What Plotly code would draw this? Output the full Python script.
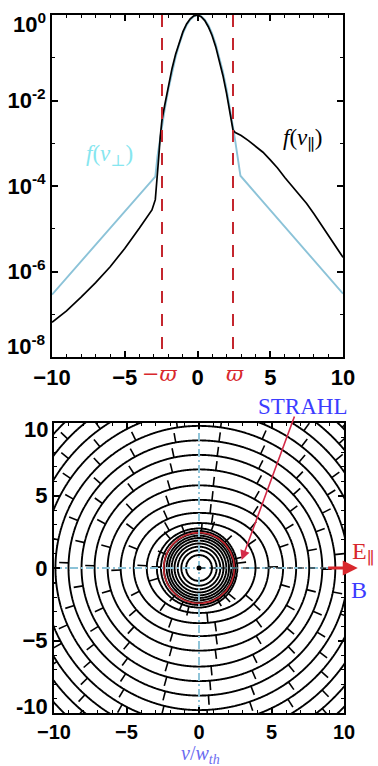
import numpy as np
import plotly.graph_objects as go

# ---------------- top panel: 1-D cuts ----------------
v_par = [-10, -9, -8, -7, -6, -5, -4, -3.5, -3.13, -2.9, -2.79, -2.67, -2.56, -2.44,
         -2.25, -2.0, -1.75, -1.5, -1.25, -1.0, -0.75, -0.5, -0.25, 0, 0.25, 0.5, 0.75,
         1.0, 1.25, 1.5, 1.75, 2.0, 2.25, 2.44, 2.6, 3.0, 3.5, 4.0, 4.5, 5.0, 5.5, 6.0,
         6.5, 7.0, 7.5, 8.0, 8.5, 9.0, 9.5, 10]
logf_par = [-7.19, -6.92, -6.60, -6.26, -5.89, -5.46, -4.99, -4.75, -4.56, -4.32, -3.93,
            -3.35, -2.85, -2.45, -2.10, -1.65, -1.25, -0.91, -0.62, -0.39, -0.21, -0.09,
            -0.02, 0.0, -0.04, -0.13, -0.28, -0.48, -0.74, -1.05, -1.42, -1.84, -2.30,
            -2.69, -2.75, -2.82, -2.94, -3.07, -3.21, -3.39, -3.58, -3.80, -4.00, -4.20,
            -4.41, -4.65, -4.90, -5.16, -5.41, -5.67]
v_perp = [-10, -8, -6, -4, -2.9, -2.75, -2.6, -2.44, -2.25, -2.0, -1.75, -1.5, -1.25, -1.0,
          -0.75, -0.5, -0.25, 0, 0.25, 0.5, 0.75, 1.0, 1.25, 1.5, 1.75, 2.0, 2.25, 2.44,
          2.6, 2.75, 2.95, 4, 6, 8, 10]
logf_perp = [-6.54, -5.76, -4.98, -4.21, -3.78, -3.30, -2.94, -2.60, -2.20, -1.74, -1.33,
             -0.98, -0.68, -0.43, -0.24, -0.11, -0.03, 0.0, -0.03, -0.11, -0.24, -0.43,
             -0.68, -0.98, -1.33, -1.74, -2.20, -2.62, -2.96, -3.32, -3.76, -4.17, -4.95,
             -5.74, -6.52]
varpi = 2.44
top_ytick_exp = [-6, -4, -2]
top_minor_exp = [-7, -5, -3, -1]
x_ticks = [-10, -5, 0, 5, 10]
y2_ticks = [-5, 0, 5]

# ---------------- bottom panel: contour crossings ----------------
contour_logf = [-0.4, -0.8, -1.2, -1.6, -2.0, -2.4, -2.8, -3.2, -3.6, -4.0, -4.4, -4.8,
                -5.2, -5.6, -6.0, -6.4, -6.8, -7.2, -7.6, -8.0, -8.4, -8.8]
# radius where each contour crosses the +v_par, v_perp and -v_par axes
r_pos = [0.90, 1.22, 1.47, 1.69, 1.89, 2.07, 2.23, 2.38, 2.50, 2.62, 3.9, 4.8, 5.8, 6.7,
         7.6, 8.5, 9.4, 10.3, 11.2, 12.1, 13.0, 13.9]
r_perp = [0.90, 1.22, 1.47, 1.69, 1.89, 2.07, 2.23, 2.40, 2.55, 2.72, 3.1, 3.8, 4.7, 5.7,
          6.8, 7.8, 8.8, 9.8, 10.8, 11.8, 12.8, 13.8]
r_neg = [0.90, 1.22, 1.47, 1.69, 1.89, 2.07, 2.23, 2.42, 2.62, 2.90, 3.6, 4.5, 5.4, 6.3,
         7.2, 8.1, 9.0, 9.9, 10.8, 11.7, 12.6, 13.5]
first_ticked_contour = 7

# ---------------- colours ----------------
BLUE_LINE = "#8cc3d8"
RED = "#c4262e"

# ---------------- build the 2-D field from the crossings ----------------
rp = np.array(r_pos); rq = np.array(r_perp); rn = np.array(r_neg)
lv = np.concatenate([[0.0], np.array(contour_logf)])

def radii(theta):
    c = np.cos(theta)
    w = c ** 2
    rpar = np.where(c[:, None] >= 0, rp[None, :], rn[None, :])
    return w[:, None] * rpar + (1 - w)[:, None] * rq[None, :]

g = np.linspace(-10.6, 10.6, 425)
X, Y = np.meshgrid(g, g)
R = np.hypot(X, Y).ravel()
TH = np.arctan2(Y, X).ravel()
rk = np.concatenate([np.zeros((R.size, 1)), radii(TH)], axis=1)
idx = np.clip((R[:, None] > rk).sum(axis=1), 1, len(lv) - 1)
r0 = np.take_along_axis(rk, (idx - 1)[:, None], 1)[:, 0]
r1 = np.take_along_axis(rk, idx[:, None], 1)[:, 0]
t = (R - r0) / (r1 - r0)
Z = (lv[idx - 1] + t * (lv[idx] - lv[idx - 1])).reshape(X.shape)

# downhill tick marks along the contours
tx, ty = [], []
th = np.linspace(0, 2 * np.pi, 2881)
RK = radii(th)
spacing, tlen = 3.0, 0.65
for k in range(first_ticked_contour, len(contour_logf)):
    px = RK[:, k] * np.cos(th); py = RK[:, k] * np.sin(th)
    s = np.concatenate([[0], np.cumsum(np.hypot(np.diff(px), np.diff(py)))])
    phase = (k * 1.37) % spacing
    for sj in np.arange(phase, s[-1], spacing):
        i = int(np.searchsorted(s, sj))
        i = min(max(i, 1), len(s) - 2)
        dx = px[i + 1] - px[i - 1]; dy = py[i + 1] - py[i - 1]
        n = np.array([dy, -dx]) / np.hypot(dx, dy)
        if n[0] * px[i] + n[1] * py[i] < 0:
            n = -n
        tx += [px[i], px[i] + tlen * n[0], None]
        ty += [py[i], py[i] + tlen * n[1], None]

fig = go.Figure()

# ---- top panel ----
fig.add_trace(go.Scatter(x=v_perp, y=[10 ** v for v in logf_perp], mode="lines",
                         line=dict(color=BLUE_LINE, width=1.9), xaxis="x", yaxis="y"))
fig.add_trace(go.Scatter(x=v_par, y=[10 ** v for v in logf_par], mode="lines",
                         line=dict(color="black", width=1.7), xaxis="x", yaxis="y"))
for xv in (-varpi, varpi):
    fig.add_trace(go.Scatter(x=[xv, xv], y=[1.0, 1e-8], mode="lines",
                             line=dict(color=RED, width=2, dash="12px,11px"),
                             xaxis="x", yaxis="y"))

# ---- bottom panel ----
fig.add_trace(go.Contour(x=g, y=g, z=Z, autocontour=False,
                         contours=dict(start=min(contour_logf), end=max(contour_logf),
                                       size=0.4, coloring="none"),
                         line=dict(color="black", width=1.9, smoothing=1),
                         showscale=False, hoverinfo="skip", xaxis="x2", yaxis="y2"))
fig.add_trace(go.Scatter(x=tx, y=ty, mode="lines", line=dict(color="black", width=1.6),
                         xaxis="x2", yaxis="y2"))
cth = np.linspace(0, 2 * np.pi, 200)
fig.add_trace(go.Scatter(x=varpi * np.cos(cth), y=varpi * np.sin(cth), mode="lines",
                         line=dict(color=RED, width=1.6), xaxis="x2", yaxis="y2"))
fig.add_trace(go.Scatter(x=[-10, 10], y=[0, 0], mode="lines",
                         line=dict(color=BLUE_LINE, width=1.9, dash="8px,3px,2px,3px"),
                         xaxis="x2", yaxis="y2"))
fig.add_trace(go.Scatter(x=[0, 0], y=[-10, 10], mode="lines",
                         line=dict(color=BLUE_LINE, width=1.9, dash="8px,3px,2px,3px"),
                         xaxis="x2", yaxis="y2"))
fig.add_trace(go.Scatter(x=[0, 8.8], y=[0, 0], mode="lines",
                         line=dict(color="black", width=1.2, dash="6px,5px"),
                         xaxis="x2", yaxis="y2"))
fig.add_trace(go.Scatter(x=[0], y=[0], mode="markers", marker=dict(color="black", size=5),
                         xaxis="x2", yaxis="y2"))

TF = dict(family="Liberation Sans", size=22, color="black", weight="bold")
TF2 = dict(TF, size=20)
common = dict(showline=True, linecolor="black", linewidth=2, mirror="ticks",
              ticks="inside", ticklen=6, tickwidth=1.5, tickcolor="black",
              showgrid=False, zeroline=False, automargin=False)
MINOR = dict(ticks="inside", ticklen=3, tickcolor="black", tickwidth=1.2)

top_x = [52 / 378, 343 / 378]; top_y = [1 - 357 / 766, 1 - 15 / 766]
bot_x = [54 / 378, 344 / 378]; bot_y = [1 - 713 / 766, 1 - 423 / 766]

fig.update_layout(
    width=378, height=766, margin=dict(l=0, r=0, t=0, b=0, autoexpand=False),
    paper_bgcolor="white", plot_bgcolor="white", showlegend=False,
    xaxis=dict(domain=top_x, anchor="y", range=[-10, 10], tickvals=x_ticks,
               minor=dict(dtick=1, **MINOR), tickfont=TF, **common),
    yaxis=dict(domain=top_y, anchor="x", type="log", range=[-8, 0],
               tickvals=[10.0 ** e for e in top_ytick_exp],
               ticktext=[f"10<sup>{e}</sup>" for e in top_ytick_exp],
               minor=dict(tickvals=[10.0 ** e for e in top_minor_exp], **MINOR),
               tickfont=TF, **common),
    xaxis2=dict(domain=bot_x, anchor="y2", range=[-10, 10], tickvals=x_ticks,
                minor=dict(dtick=1, **MINOR), tickfont=TF2, **common),
    yaxis2=dict(domain=bot_y, anchor="x2", range=[-10, 10], tickvals=y2_ticks,
                minor=dict(dtick=1, **MINOR), tickfont=TF, **common),
)

ann = []
# edge tick labels (nudged inward as in the original)
def edge_label(text, x, yref, y, yshift):
    return dict(text=text, xref="paper", x=x, xanchor="right", xshift=-4, yref=yref, y=y,
                yanchor="middle", yshift=yshift, showarrow=False, font=TF)
ann.append(edge_label("10<sup>0</sup>", top_x[0], "y", 0, -8))
ann.append(edge_label("10<sup>-8</sup>", top_x[0], "y", -8, 12))
ann.append(edge_label("10", bot_x[0], "y2", 10, -6))
ann.append(edge_label("-10", bot_x[0], "y2", -10, 7))

SERIF = "Liberation Serif, DejaVu Serif, serif"
def label(text, x, y, color, size=23, family=SERIF, xref="paper"):
    return dict(text=text, xref=xref, yref="paper", x=x, y=y, xanchor="center",
                yanchor="middle", showarrow=False,
                font=dict(family=family, size=size, color=color))
# curve labels
ann.append(label("<i>f</i>(<i>v</i><sub>⊥</sub>)", 109 / 378, 1 - 155 / 766, "#86e6ef"))
ann.append(label("<i>f</i>(<i>v</i><sub>∥</sub>)", 302 / 378, 1 - 139 / 766, "black"))
ann.append(label("−<i>ϖ</i>", -2.6, 1 - 374 / 766, "#d8282d", 21, "DejaVu Serif", "x"))
ann.append(label("<i>ϖ</i>", 2.6, 1 - 374 / 766, "#d8282d", 21, "DejaVu Serif", "x"))
# bottom panel labels and arrows
ann.append(label("STRAHL", 302 / 378, 1 - 406 / 766, "#3c3cff"))
ann.append(dict(text="", xref="x2", yref="y2", x=2.94, y=0.55, axref="x2", ayref="y2",
                ax=6.62, ay=10.55, showarrow=True, arrowhead=2, arrowsize=1.2,
                arrowwidth=1.6, arrowcolor="#d42a48"))
ann.append(dict(text="", xref="x2", yref="y2", x=10.95, y=0, axref="x2", ayref="y2",
                ax=8.8, ay=0, showarrow=True, arrowhead=2, arrowsize=1,
                arrowwidth=3, arrowcolor="#d8282d"))
ann.append(label("E<sub>∥</sub>", 363 / 378, 1 - 553 / 766, "#d8282d", 24))
ann.append(label("B", 359 / 378, 1 - 590 / 766, "#3c3cff", 24))
ann.append(label("<i>v</i>/<i>w</i><sub><i>th</i></sub>", 200 / 378, 1 - 754 / 766,
                 "#6b6bf0", 20))
fig.update_layout(annotations=ann)

fig.write_html("out.html")
